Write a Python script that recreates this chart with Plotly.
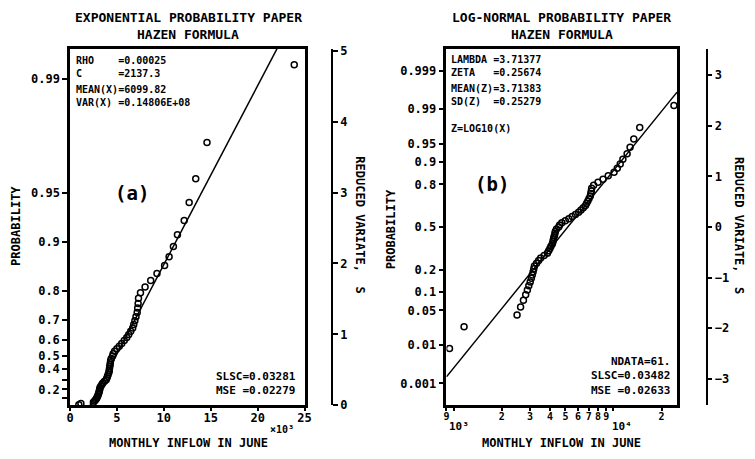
import math
from statistics import NormalDist
import plotly.graph_objects as go

# ---------------- data ----------------
inflow = [940, 1160, 2490, 2620, 2730, 2820, 2890, 2950, 3010, 3060,
          3100, 3140, 3170, 3200, 3300, 3400, 3500, 3680, 3860, 3930,
          4000, 4060, 4140, 4180, 4200, 4230, 4270, 4300, 4330, 4400,
          4540, 4600, 4750, 4990, 5250, 5510, 5780, 6050, 6260, 6470,
          6680, 6790, 6910, 7030, 7160, 7210, 7260, 7300, 7510, 8000,
          8600, 9270, 10080, 10560, 11020, 11450, 12170, 12700, 13400, 14600,
          23900]
exp_C = 2137.3
exp_mean = 6099.82
ln_lambda = 3.71377
ln_zeta = 0.25674

a_prob_ticks = [0.1, 0.2, 0.3, 0.4, 0.5, 0.6, 0.7, 0.8, 0.9, 0.95, 0.99]
a_prob_labels = ["", "0.2", "", "0.4", "0.5", "0.6", "0.7", "0.8", "0.9", "0.95", "0.99"]
a_x_ticks = [0, 5000, 10000, 15000, 20000, 25000]
a_x_labels = ["0", "5", "10", "15", "20", "25"]
a_s_ticks = [0, 1, 2, 3, 4, 5]

b_prob_ticks = [0.001, 0.01, 0.05, 0.1, 0.2, 0.5, 0.8, 0.9, 0.95, 0.99, 0.999]
b_prob_labels = ["0.001", "0.01", "0.05", "0.1", "0.2", "0.5", "0.8", "0.9", "0.95", "0.99", "0.999"]
b_x_ticks = [900, 1000, 2000, 3000, 4000, 5000, 6000, 7000, 8000, 9000, 10000, 20000]
b_x_labels = ["9", "", "2", "3", "4", "5", "6", "7", "8", "9", "", "2"]
b_s_ticks = [-3, -2, -1, 0, 1, 2, 3]

# ---------------- derived ----------------
n = len(inflow)
xs = sorted(inflow)
F = [(i + 0.5) / n for i in range(n)]          # Hazen plotting position
s_exp = [-math.log(1 - f) for f in F]
nd = NormalDist()
s_norm = [nd.inv_cdf(f) for f in F]

rho = 1.0 / (exp_mean - exp_C)
line_a_x = [exp_C, 25000]
line_a_y = [rho * (x - exp_C) for x in line_a_x]
line_b_x = [900, 25000]
line_b_y = [(math.log10(x) - ln_lambda) / ln_zeta for x in line_b_x]

W, H = 755, 459
def px(x):
    return x / W
def py(y):
    return 1 - y / H

MONO = "DejaVu Sans Mono"
BLK = "black"

fig = go.Figure()

mk = dict(symbol="circle-open", size=6, color=BLK, line=dict(width=1.5, color=BLK))

fig.add_trace(go.Scatter(x=xs, y=s_exp, mode="markers", marker=mk, xaxis="x", yaxis="y",
                         showlegend=False, hoverinfo="skip"))
fig.add_trace(go.Scatter(x=line_a_x, y=line_a_y, mode="lines", line=dict(color=BLK, width=1.5),
                         xaxis="x", yaxis="y", showlegend=False, hoverinfo="skip"))
fig.add_trace(go.Scatter(x=xs, y=s_norm, mode="markers", marker=mk, xaxis="x2", yaxis="y2",
                         showlegend=False, hoverinfo="skip"))
fig.add_trace(go.Scatter(x=line_b_x, y=line_b_y, mode="lines", line=dict(color=BLK, width=1.5),
                         xaxis="x2", yaxis="y2", showlegend=False, hoverinfo="skip"))
# carriers for the reduced-variate axes
fig.add_trace(go.Scatter(x=[None], y=[None], xaxis="x", yaxis="y3", showlegend=False, hoverinfo="skip"))
fig.add_trace(go.Scatter(x=[None], y=[None], xaxis="x2", yaxis="y4", showlegend=False, hoverinfo="skip"))

tickfont = dict(family=MONO, size=12, color=BLK, weight="bold")
common = dict(showgrid=False, zeroline=False, showline=True, linecolor=BLK,
              ticks="outside", tickcolor=BLK, tickfont=tickfont)

ydom = [py(411), py(45)]
ya_range = [0, (411 - 45) / 72.8]
yb_range = [-3.52, 3.52]

fig.update_layout(
    width=W, height=H, margin=dict(l=0, r=0, t=0, b=0),
    paper_bgcolor="white", plot_bgcolor="white", showlegend=False,
    xaxis=dict(domain=[px(67), px(305)], range=[0, 25000], anchor="y", mirror=True, linewidth=2.5,
               tickvals=a_x_ticks, ticktext=a_x_labels, ticklen=3, tickwidth=1.5,
               ticklabelstandoff=-3, **common),
    yaxis=dict(domain=ydom, range=ya_range, anchor="x", mirror=True, linewidth=2.5,
               tickvals=[-math.log(1 - p) for p in a_prob_ticks], ticktext=a_prob_labels,
               ticklen=5, tickwidth=1.5, **common),
    yaxis3=dict(overlaying="y", anchor="free", position=px(333), side="right", range=ya_range,
                tickvals=a_s_ticks, ticklen=5, tickwidth=1.5, linewidth=1.5, **common),
    xaxis2=dict(domain=[px(449), px(683)], type="log", range=[math.log10(900), math.log10(25000)],
                anchor="y2", mirror=True, linewidth=2.5, tickvals=b_x_ticks, ticktext=b_x_labels,
                ticklen=3, tickwidth=1.5, ticklabelstandoff=-3,
                **{**common, "tickfont": dict(family=MONO, size=10, color=BLK, weight="bold")}),
    yaxis2=dict(domain=ydom, range=yb_range, anchor="x2", mirror=True, linewidth=2.5,
                tickvals=[nd.inv_cdf(p) for p in b_prob_ticks], ticktext=b_prob_labels,
                ticklen=5, tickwidth=1.5, **common),
    yaxis4=dict(overlaying="y2", anchor="free", position=px(713), side="right", range=yb_range,
                tickvals=b_s_ticks, ticklen=5, tickwidth=1.5, linewidth=1.5, **common),
)

def note(x, y, text, size=12, xanchor="left", angle=0, yanchor="middle"):
    fig.add_annotation(x=px(x), y=py(y), xref="paper", yref="paper", text=text, showarrow=False,
                       xanchor=xanchor, yanchor=yanchor, textangle=angle, align=xanchor if xanchor != "center" else "center",
                       font=dict(family=MONO, size=size, color=BLK, weight="bold"))

sp = "\u00a0"
# titles
note(187, 13, "EXPONENTIAL PROBABILITY PAPER", 13, "center")
note(187, 30, "HAZEN FORMULA", 13, "center")
note(566, 13, "LOG-NORMAL PROBABILITY PAPER", 13, "center")
note(566, 30, "HAZEN FORMULA", 13, "center")
# panel a texts
note(71, 49, "RHO" + sp * 4 + "=0.00025<br>C" + sp * 6 + "=2137.3", 10, "left", yanchor="top")
note(71, 79, "MEAN(X)=6099.82<br>VAR(X)" + sp + "=0.14806E+08", 10, "left", yanchor="top")
note(130, 193, "(a)", 19, "center")
note(298, 405, "SLSC=0.03281<br>MSE" + sp + "=0.02279", 11, "right", yanchor="bottom")
note(282, 436, "×10³", 10, "center")
note(187, 450, "MONTHLY INFLOW IN JUNE", 12, "center")
note(12, 227, "PROBABILITY", 12, "center", -90)
note(361, 226, "REDUCED VARIATE," + sp * 2 + "S", 12, "center", 90)
# panel b texts
note(452, 48, "LAMBDA" + sp + "=3.71377<br>ZETA" + sp * 3 + "=0.25674", 10, "left", yanchor="top")
note(452, 78, "MEAN(Z)=3.71383<br>SD(Z)" + sp * 2 + "=0.25279", 10, "left", yanchor="top")
note(452, 127, "Z=LOG10(X)", 10)
note(495, 184, "(b)", 19, "center")
note(678, 405, "NDATA=61.<br>SLSC=0.03482<br>MSE" + sp + "=0.02633", 11, "right", yanchor="bottom")
note(462, 433, "10³", 11, "center")
note(627, 433, "10⁴", 11, "center")
note(566, 450, "MONTHLY INFLOW IN JUNE", 12, "center")
note(393, 230, "PROBABILITY", 12, "center", -90)
note(746, 226, "REDUCED VARIATE," + sp * 2 + "S", 12, "center", 90)

fig.write_html("out.html", config={"displayModeBar": False},
               post_script="document.body.style.margin='0';")
